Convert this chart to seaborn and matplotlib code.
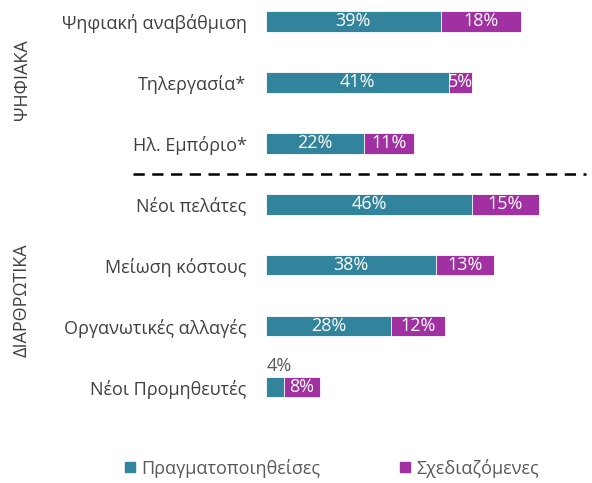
import matplotlib
matplotlib.use('Agg')
import matplotlib.pyplot as plt
import pandas as pd
import seaborn as sns
from matplotlib.lines import Line2D

# Chart data
categories = ['Ψηφιακή αναβάθμιση', 'Τηλεργασία*', 'Ηλ. Εμπόριο*', 'Νέοι πελάτες',
              'Μείωση κόστους', 'Οργανωτικές αλλαγές', 'Νέοι Προμηθευτές']
done = [39, 41, 22, 46, 38, 28, 4]
planned = [18, 5, 11, 15, 13, 12, 8]
series_names = ['Πραγματοποιηθείσες', 'Σχεδιαζόμενες']
group_names = ['ΨΗΦΙΑΚΑ', 'ΔΙΑΡΘΡΩΤΙΚΑ']

teal = '#31849B'
purple = '#A130A3'
text_grey = '#404040'

sns.set_theme(style='white')
plt.rcParams['font.family'] = ['Open Sans', 'DejaVu Sans']

df = pd.DataFrame({'cat': categories, 'done': done, 'planned': planned})
df['total'] = df['done'] + df['planned']

fig = plt.figure(figsize=(5.92, 4.83), dpi=100)
ax = fig.add_axes([266 / 592, 1 - 417.5 / 483, 320 / 592, 417.5 / 483])

# total bar first (purple), then realised part on top (teal)
sns.barplot(data=df, x='total', y='cat', color=purple, width=0.34, ax=ax,
            saturation=1, edgecolor='white', linewidth=0.6)
sns.barplot(data=df, x='done', y='cat', color=teal, width=0.34, ax=ax,
            saturation=1, edgecolor='white', linewidth=0.6)

ax.set_xlim(0, 71.5)
ax.set_ylim(6.5, -0.35)
ax.set_xlabel('')
ax.set_ylabel('')
ax.set_xticks([])
for s in ax.spines.values():
    s.set_visible(False)
ax.tick_params(axis='y', length=0, pad=14, labelsize=13, labelcolor=text_grey)

# value labels
for i, (d, p) in enumerate(zip(done, planned)):
    if d >= 10:
        ax.text(d / 2, i, f'{d}%', ha='center', va='center', color='white', fontsize=13)
    else:
        ax.text(0.2, i - 0.2, f'{d}%', ha='left', va='bottom', color='#595959', fontsize=13)
    ax.text(d + p / 2, i, f'{p}%', ha='center', va='center', color='white', fontsize=13)

# dashed separator between the two groups
ax.plot([-0.416, 1.0], [2.5, 2.5], transform=ax.get_yaxis_transform(), color='black',
        linestyle=(0, (4.5, 3)), linewidth=1.8, clip_on=False)

# vertical group labels
fig.text(22 / 592, 1 - 80 / 483, group_names[0], rotation=90, ha='center', va='center',
         fontsize=13, color=text_grey)
fig.text(22 / 592, 1 - 300 / 483, group_names[1], rotation=90, ha='center', va='center',
         fontsize=13, color=text_grey)

# legend
handles = [Line2D([], [], marker='s', linestyle='', color=teal, markersize=7),
           Line2D([], [], marker='s', linestyle='', color=purple, markersize=7)]
fig.legend(handles, series_names, loc='center', bbox_to_anchor=(330 / 592, 1 - 468 / 483),
           ncol=2, frameon=False, fontsize=13, labelcolor='#595959',
           handletextpad=0.1, columnspacing=4.2, handlelength=1.0)

fig.savefig('out.png', dpi=100)
